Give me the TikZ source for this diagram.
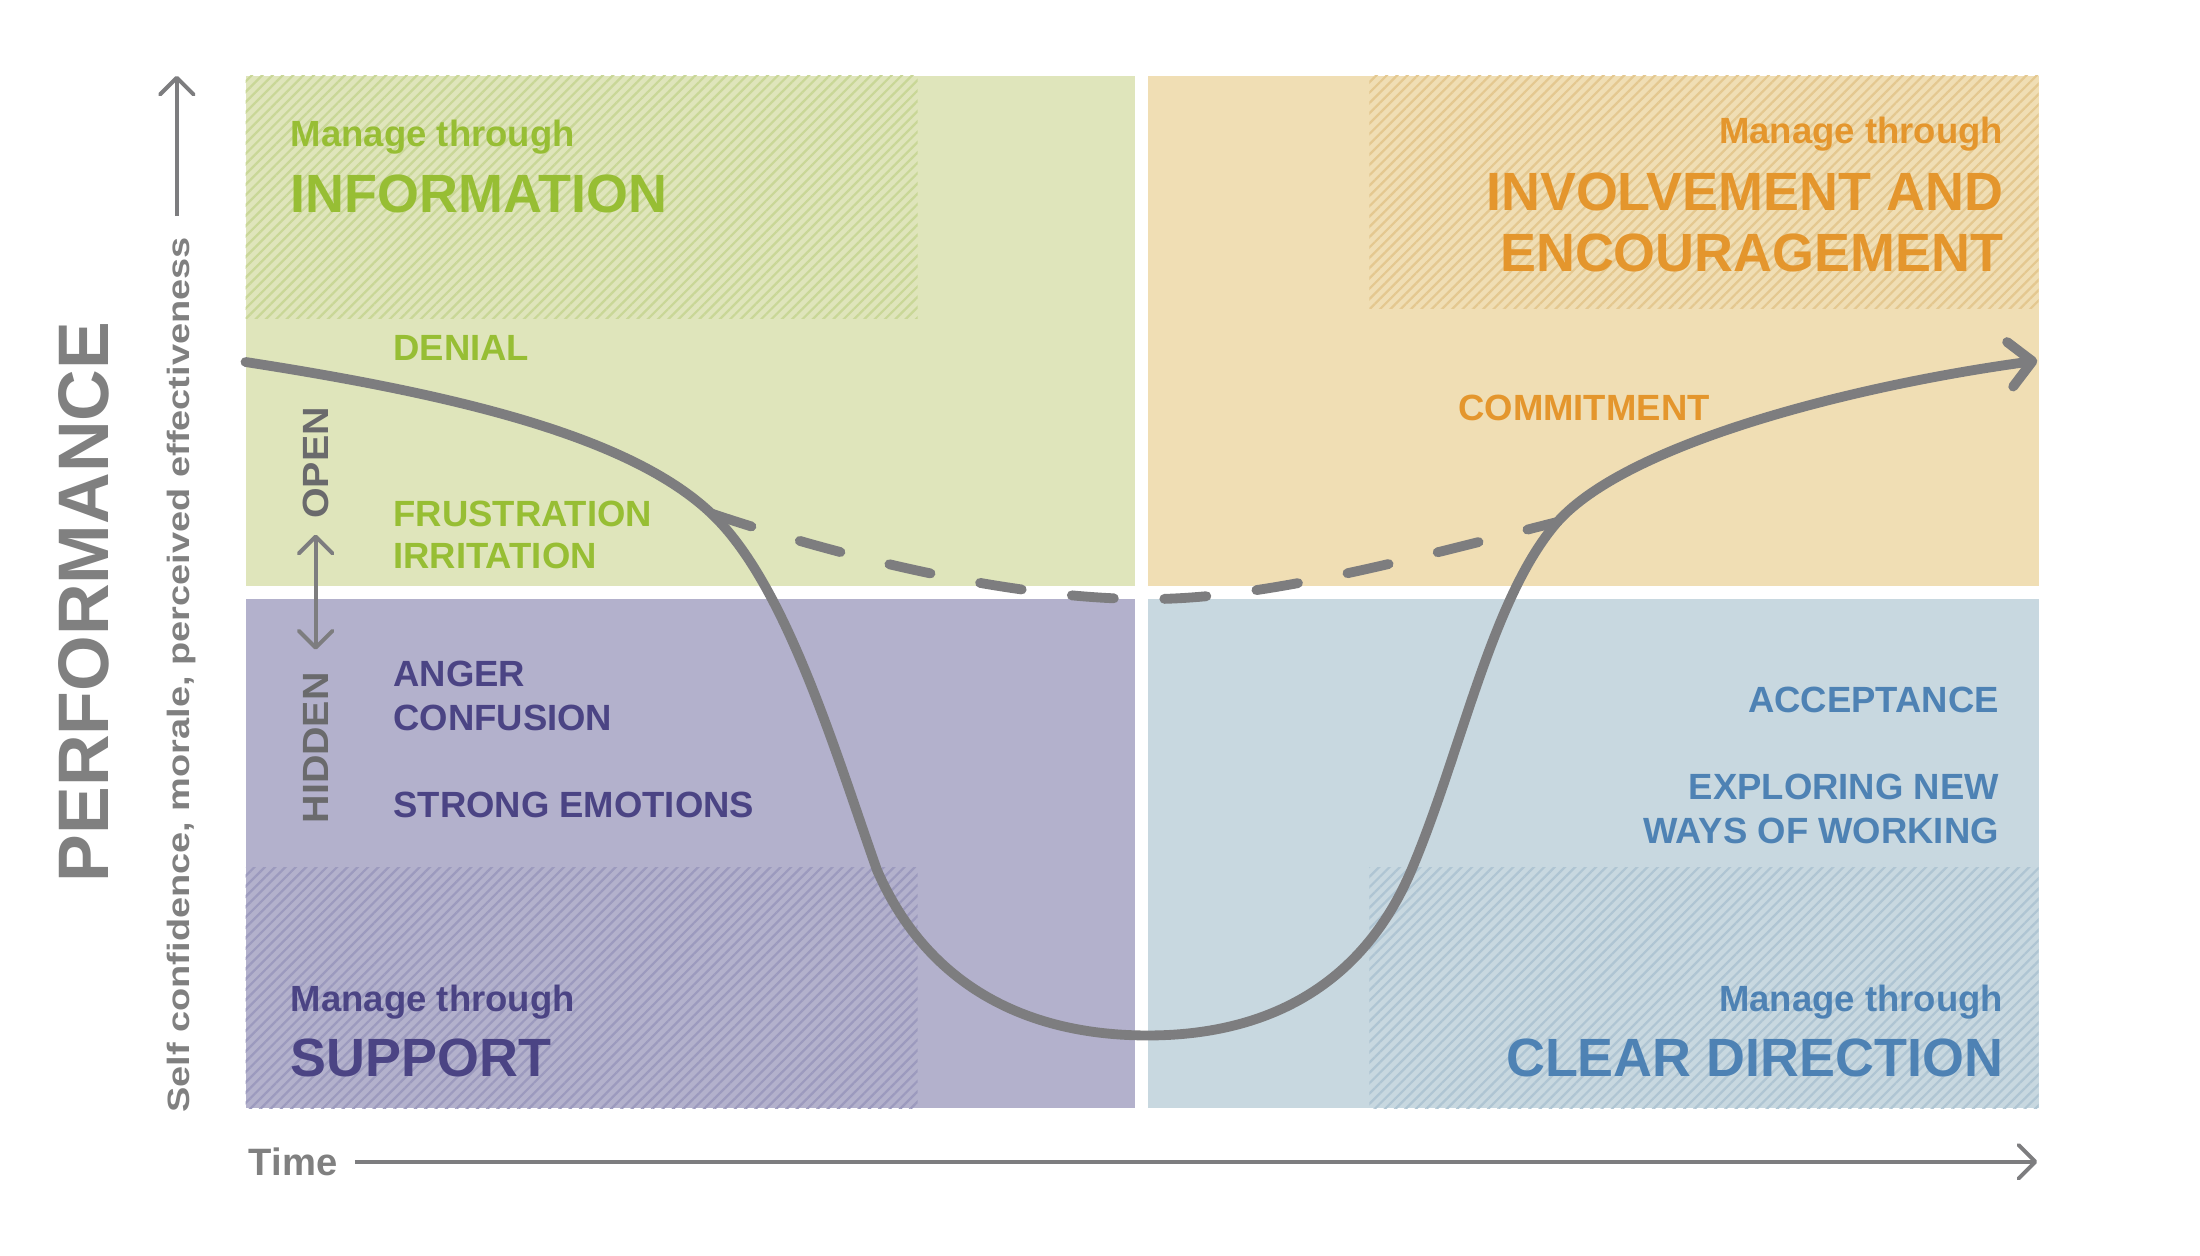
\documentclass[tikz,border=0pt]{standalone}
\usepackage{fontspec}
\setmainfont{Liberation Sans}
\newfontfamily\widefont[FakeStretch=1.23]{Liberation Sans}
\newfontfamily\tagfont[FakeStretch=1.08]{Liberation Sans}
\usetikzlibrary{arrows.meta,patterns.meta}

\begin{document}
\begin{tikzpicture}[x=0.5pt,y=-0.5pt,
    lbl/.style={font=\fontsize{13}{15}\selectfont\bfseries,inner sep=0pt},
    big/.style={font=\fontsize{19.2}{22}\selectfont\bfseries,inner sep=0pt},
    hatch/.style={pattern={Lines[angle=45,distance=2.6pt,line width=0.8pt]}},
    curve/.style={line width=3.5pt,draw=col_line,line cap=round},
    axis/.style={line width=1.4pt,draw=col_line,-{Straight Barb[length=6pt,width=12pt,round]}}]
    \definecolor{col_green}{HTML}{DFE5BB} % denial quadrant
    \definecolor{col_green_h}{HTML}{C9D797}
    \definecolor{col_green_t}{HTML}{97BE34}
    \definecolor{col_orange}{HTML}{F0DEB4} % commitment quadrant
    \definecolor{col_orange_h}{HTML}{E4C890}
    \definecolor{col_orange_t}{HTML}{E4962D}
    \definecolor{col_purple}{HTML}{B3B1CC} % anger quadrant
    \definecolor{col_purple_h}{HTML}{9C9ABE}
    \definecolor{col_purple_t}{HTML}{4B4484}
    \definecolor{col_blue}{HTML}{C8D8E0} % acceptance quadrant
    \definecolor{col_blue_h}{HTML}{AFC5D3}
    \definecolor{col_blue_t}{HTML}{4E82B4}
    \definecolor{col_line}{HTML}{7D7D7F}
    \definecolor{col_text}{HTML}{808080}
    \useasboundingbox (0,0) rectangle (1568,895);
    % quadrants
    \fill[col_green] (175,54) rectangle (809,418);
    \fill[col_orange] (818,54) rectangle (1453,418);
    \fill[col_purple] (175,427) rectangle (809,790);
    \fill[col_blue] (818,427) rectangle (1453,790);
    \fill[hatch,pattern color=col_green_h] (175,54) rectangle (654,227);
    \fill[hatch,pattern color=col_orange_h] (976,54) rectangle (1453,220);
    \fill[hatch,pattern color=col_purple_h] (175,618) rectangle (654,790);
    \fill[hatch,pattern color=col_blue_h] (976,618) rectangle (1453,790);
    % axes
    \node[rotate=90,text=col_text,font=\fontsize{25.5}{28}\selectfont\bfseries,inner sep=0pt] (perf) at (60,429) {PERFORMANCE};
    \node[rotate=90,text=col_text,font=\widefont\fontsize{11}{13}\selectfont\bfseries,inner sep=0pt,anchor=base] (self) at (135,481) {Self confidence, morale, perceived effectiveness};
    \coordinate (p0) at (126,154);
    \coordinate (p1) at (126,54);
    \draw[axis] (p0) -- (p1);
    \node[lbl,text=col_text,font=\fontsize{13.6}{15}\selectfont\bfseries,anchor=base west] (time) at (177,837.5) {Time};
    \coordinate (t0) at (253,828);
    \coordinate (t1) at (1452,828);
    \draw[axis] (t0) -- (t1);
    % open / hidden
    \node[rotate=90,lbl,font=\tagfont\fontsize{13}{15}\selectfont\bfseries,text=col_line!85!black] (open) at (225,330) {OPEN};
    \node[rotate=90,lbl,font=\tagfont\fontsize{13}{15}\selectfont\bfseries,text=col_line!85!black] (hidden) at (225,533) {HIDDEN};
    \coordinate (oh0) at (225,381);
    \coordinate (oh1) at (225,463);
    \draw[line width=1.4pt,draw=col_line,{Straight Barb[length=6pt,width=12pt,round]}-{Straight Barb[length=6pt,width=12pt,round]}] (oh0) -- (oh1);
    % curves
    \coordinate (c0) at (175,258);
    \coordinate (c1) at (507,366);
    \coordinate (c2) at (625,620);
    \coordinate (low) at (818,738);
    \coordinate (c3) at (1006,620);
    \coordinate (c4) at (1110,372);
    \coordinate (c5) at (1452,257);
    \draw[curve,dash pattern=on 15pt off 18pt] (c1) .. controls (600,397) and (720,427) .. (818,427) .. controls (900,427) and (1000,400) .. (c4);
    \draw[curve,-{Straight Barb[length=8pt,width=16pt,round]}] (c0) .. controls (330,282) and (450,312) .. (c1)
        .. controls (560,416) and (595,535) .. (c2)
        .. controls (662,705) and (735,738) .. (low)
        .. controls (900,738) and (970,705) .. (c3)
        .. controls (1042,535) and (1063,426) .. (c4)
        .. controls (1160,316) and (1320,275) .. (c5);
    % green quadrant
    \node[lbl,text=col_green_t,anchor=base west] (mg) at (207,104.5) {Manage through};
    \node[big,text=col_green_t,anchor=base west] (info) at (207,151.5) {INFORMATION};
    \node[lbl,text=col_green_t,anchor=base west] (denial) at (280,257) {DENIAL};
    \node[lbl,text=col_green_t,anchor=base west] (frust) at (280,375) {FRUSTRATION};
    \node[lbl,text=col_green_t,anchor=base west] (irrit) at (280,405) {IRRITATION};
    % orange quadrant
    \node[lbl,text=col_orange_t,anchor=base east] (mo) at (1428,102) {Manage through};
    \node[big,text=col_orange_t,anchor=base east] (invol) at (1428,150) {INVOLVEMENT AND};
    \node[big,text=col_orange_t,anchor=base east] (encour) at (1428,193.5) {ENCOURAGEMENT};
    \node[lbl,text=col_orange_t,anchor=base west] (commit) at (1039,299.5) {COMMITMENT};
    % purple quadrant
    \node[lbl,text=col_purple_t,anchor=base west] (anger) at (280,489) {ANGER};
    \node[lbl,text=col_purple_t,anchor=base west] (confus) at (280,520.5) {CONFUSION};
    \node[lbl,text=col_purple_t,anchor=base west] (strong) at (280,582.5) {STRONG EMOTIONS};
    \node[lbl,text=col_purple_t,anchor=base west] (mp) at (207,721) {Manage through};
    \node[big,text=col_purple_t,anchor=base west] (support) at (207,767.5) {SUPPORT};
    % blue quadrant
    \node[lbl,text=col_blue_t,anchor=base east] (accept) at (1425,507.5) {ACCEPTANCE};
    \node[lbl,text=col_blue_t,anchor=base east] (explor) at (1425,570) {EXPLORING NEW};
    \node[lbl,text=col_blue_t,anchor=base east] (ways) at (1425,601.5) {WAYS OF WORKING};
    \node[lbl,text=col_blue_t,anchor=base east] (mb) at (1428,721) {Manage through};
    \node[big,text=col_blue_t,anchor=base east] (clear) at (1428,767.5) {CLEAR DIRECTION};
\end{tikzpicture}
\end{document}
